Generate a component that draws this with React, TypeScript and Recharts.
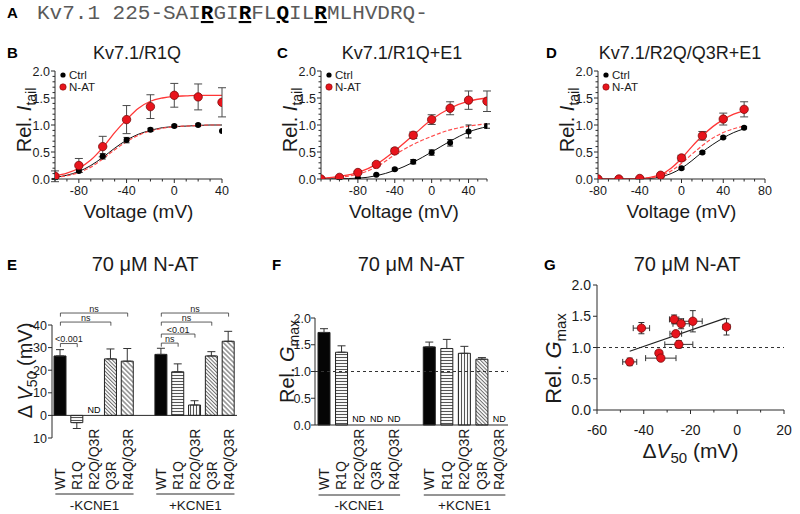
import React from 'react';
import {
  ComposedChart, BarChart, Bar, Line, Scatter, XAxis, YAxis, ErrorBar,
  ReferenceLine, ReferenceDot, Cell, Legend,
} from 'recharts';

const FONT = '"Liberation Sans", Arial, Helvetica, sans-serif';
const MONO = '"Liberation Mono", "Courier New", Courier, monospace';
const INK = '#1b1b1b';
const AXIS = '#2a2a2a';
const ERR = '#4a4a4a';
const RED_LINE = '#ff3636';
const RED_DASH = '#ff4c4c';
const RED_DOT = '#e8141c';
const RED_EDGE = '#7a0a0a';

/* ---------------- Panel A ---------------- */
const seqParts = [
  { t: 'Kv7.1 225-SAI', hl: false },
  { t: 'R', hl: true }, { t: 'GI', hl: false },
  { t: 'R', hl: true }, { t: 'FL', hl: false },
  { t: 'Q', hl: true }, { t: 'IL', hl: false },
  { t: 'R', hl: true }, { t: 'MLHVDRQ-', hl: false },
];

/* ---------------- Panel B : Kv7.1/R1Q ---------------- */
const voltsB = [-100, -80, -60, -40, -20, 0, 20, 40];
const ctrlB = [0.0, 0.15, 0.42, 0.72, 0.91, 0.98, 1.0, 0.89];
const ctrlBErr = [0.01, 0.03, 0.05, 0.05, 0.03, 0.02, 0.02, 0];
const natB = [0.05, 0.25, 0.6, 1.1, 1.34, 1.55, 1.52, 1.42];
const natBErr = [0.1, 0.13, 0.19, 0.26, 0.22, 0.22, 0.24, 0.27];
const fitVoltsB = [-100, -90, -80, -70, -60, -50, -40, -30, -20, -10, 0, 10, 20, 30, 40];
const fitCtrlB = [0.03, 0.07, 0.14, 0.25, 0.4, 0.57, 0.72, 0.83, 0.9, 0.95, 0.97, 0.98, 0.99, 1.0, 1.0];
const fitNatB = [0.06, 0.11, 0.2, 0.35, 0.58, 0.86, 1.1, 1.31, 1.44, 1.5, 1.53, 1.54, 1.55, 1.55, 1.55];
const fitNormB = [0.03, 0.06, 0.12, 0.22, 0.37, 0.54, 0.69, 0.81, 0.89, 0.94, 0.97, 0.98, 0.99, 1.0, 1.0];
const ticksB = [-100, -90, -80, -70, -60, -50, -40, -30, -20, -10, 0, 10, 20, 30, 40];
const labelsB = [-80, -40, 0, 40];

/* ---------------- Panel C : Kv7.1/R1Q+E1 ---------------- */
const voltsC = [-120, -100, -80, -60, -40, -20, 0, 20, 40, 60];
const ctrlC = [0.0, 0.0, 0.02, 0.08, 0.18, 0.32, 0.49, 0.67, 0.88, 0.98];
const ctrlCErr = [0, 0.01, 0.01, 0.01, 0.02, 0.04, 0.05, 0.06, 0.12, 0.04];
const natC = [0.0, 0.03, 0.12, 0.27, 0.52, 0.81, 1.1, 1.31, 1.46, 1.44];
const natCErr = [0, 0.01, 0.02, 0.03, 0.05, 0.06, 0.09, 0.12, 0.17, 0.19];
const fitVoltsC = [-120, -100, -80, -60, -40, -20, 0, 20, 40, 60];
const fitCtrlC = [0.0, 0.005, 0.015, 0.06, 0.16, 0.31, 0.5, 0.7, 0.87, 0.97];
const fitNatC = [0.01, 0.05, 0.12, 0.27, 0.52, 0.81, 1.1, 1.31, 1.44, 1.5];
const fitNormC = [0.01, 0.03, 0.09, 0.22, 0.45, 0.64, 0.79, 0.91, 0.98, 1.02];
const ticksC = [-120, -110, -100, -90, -80, -70, -60, -50, -40, -30, -20, -10, 0, 10, 20, 30, 40, 50, 60];
const labelsC = [-80, -40, 0, 40];

/* ---------------- Panel D : Kv7.1/R2Q/Q3R+E1 ---------------- */
const voltsD = [-80, -60, -40, -20, 0, 20, 40, 60];
const ctrlD = [0.0, 0.0, 0.0, 0.04, 0.2, 0.49, 0.77, 0.95];
const ctrlDErr = [0, 0, 0, 0.01, 0.02, 0.02, 0.02, 0.02];
const natD = [0.0, 0.0, 0.01, 0.07, 0.39, 0.8, 1.11, 1.29];
const natDErr = [0, 0, 0.01, 0.02, 0.05, 0.08, 0.11, 0.14];
const fitVoltsD = [-80, -60, -40, -30, -20, -10, 0, 10, 20, 30, 40, 50, 60];
const fitCtrlD = [0.0, 0.0, 0.0, 0.01, 0.04, 0.1, 0.2, 0.34, 0.5, 0.64, 0.76, 0.86, 0.93];
const fitNatD = [0.0, 0.0, 0.01, 0.03, 0.08, 0.2, 0.38, 0.6, 0.8, 0.97, 1.1, 1.2, 1.26];
const fitNormD = [0.0, 0.0, 0.01, 0.02, 0.06, 0.15, 0.29, 0.46, 0.62, 0.76, 0.86, 0.93, 0.98];
const ticksD = [-80, -70, -60, -50, -40, -30, -20, -10, 0, 10, 20, 30, 40, 50, 60, 70, 80];
const labelsD = [-80, -40, 0, 40, 80];

const ivYTicks = [0, 0.1, 0.2, 0.3, 0.4, 0.5, 0.6, 0.7, 0.8, 0.9, 1, 1.1, 1.2, 1.3, 1.4, 1.5, 1.6, 1.7, 1.8, 1.9, 2];
const ivYLabels = [0, 0.5, 1, 1.5, 2];

/* ---------------- Panels E / F ---------------- */
const mutants = ['WT', 'R1Q', 'R2Q/Q3R', 'Q3R', 'R4Q/Q3R', '', 'WT', 'R1Q', 'R2Q/Q3R', 'Q3R', 'R4Q/Q3R'];
const groups = ['-KCNE1', '+KCNE1'];
const dV50Means = [-26.3, 3.2, null, -25.0, -24.0, null, -27.0, -19.3, -4.6, -26.3, -32.8];
const dV50Sem = [2.8, 2.6, null, 4.4, 5.6, null, 2.7, 3.5, 1.9, 1.9, 4.4];
const gmaxMeans = [1.73, 1.36, null, null, null, null, 1.46, 1.43, 1.34, 1.23, null];
const gmaxSem = [0.07, 0.12, null, null, null, null, 0.09, 0.17, 0.13, 0.03, null];
const eTicks = [-40, -30, -20, -10, 0, 10];
const fTicks = [0, 0.5, 1, 1.5, 2];
const bracketsE = [
  { from: 0, to: 4, level: -45.3, text: 'ns' },
  { from: 0, to: 3, level: -41.3, text: 'ns' },
  { from: 0, to: 1, level: -31.8, text: '<0.001' },
  { from: 6, to: 10, level: -45.3, text: 'ns' },
  { from: 6, to: 9, level: -41.3, text: 'ns' },
  { from: 6, to: 8, level: -36.0, text: '<0.01' },
  { from: 6, to: 7, level: -32.0, text: 'ns' },
];
const barStyles = ['solid', 'h', 'v', 'd1', 'd2', 'solid', 'solid', 'h', 'v', 'd1', 'd2'];

/* ---------------- Panel G ---------------- */
const gDV50 = [-46, -41, -33.5, -32.7, -27, -24, -26.3, -25, -19, -4.6];
const gDV50Err = [3, 3.5, 1.2, 6.5, 2, 3.5, 2.5, 6, 4, 1.5];
const gGmax = [0.77, 1.31, 0.91, 0.83, 1.45, 1.38, 1.22, 1.05, 1.42, 1.33];
const gGmaxErr = [0.06, 0.09, 0.04, 0.04, 0.07, 0.08, 0.04, 0.06, 0.17, 0.13];
const fitGx = [-46, -5];
const fitGy = [0.94, 1.47];
const gXTicks = [-60, -50, -40, -30, -20, -10, 0, 10, 20];
const gXLabels = [-60, -40, -20, 0, 20];
const gYTicks = [0, 0.5, 1, 1.5, 2];

/* ---------------- tables built from the arrays ---------------- */
const ivPts = (xs: number[], ys: number[], es?: number[]) =>
  xs.map((v, k) => ({ v, i: ys[k], e: es ? es[k] : 0 }));

const barTable = (means: (number | null)[], sem: (number | null)[]) =>
  mutants.map((name, k) => {
    const m = means[k];
    const s = sem[k];
    return {
      id: k,
      name,
      val: m,
      err: m == null || s == null ? undefined : m < 0 ? [s, 0] : [0, s],
    };
  });

const tableE = barTable(dV50Means, dV50Sem);
const tableF = barTable(gmaxMeans, gmaxSem);
const ndIds = (means: (number | null)[]) =>
  mutants.map((n, k) => (n !== '' && means[k] == null ? k : -1)).filter((k) => k >= 0);

const tableG = gDV50.map((x, k) => ({ x, y: gGmax[k], ex: gDV50Err[k], ey: gGmaxErr[k] }));
const fitG = fitGx.map((x, k) => ({ x, y: fitGy[k] }));

/* ---------------- helpers ---------------- */
const near = (arr: number[], v: number) => arr.some((l) => Math.abs(l - v) < 1e-6);

function XNumTick(props: any) {
  const { x, y, payload, labels, fontSize = 12.5, labelDy = 16 } = props;
  const v = Number(payload.value);
  const major = near(labels, v);
  return (
    <g>
      <line x1={x} x2={x} y1={y} y2={y + (major ? 4 : 2.5)} stroke={AXIS} strokeWidth={1} />
      {major ? (
        <text x={x} y={y + labelDy} textAnchor="middle" fontSize={fontSize} fontFamily={FONT} fill={INK}>
          {String(v)}
        </text>
      ) : null}
    </g>
  );
}

function YNumTick(props: any) {
  const { x, y, payload, labels, fmt, fontSize = 12.5, gap = 5 } = props;
  const v = Number(payload.value);
  const major = near(labels, v);
  return (
    <g>
      <line x1={x} x2={x - (major ? 4 : 2.5)} y1={y} y2={y} stroke={AXIS} strokeWidth={1} />
      {major ? (
        <text x={x - gap} y={y} dy="0.36em" textAnchor="end" fontSize={fontSize} fontFamily={FONT} fill={INK}>
          {fmt(v)}
        </text>
      ) : null}
    </g>
  );
}

function CatTick(props: any) {
  const { x, y, payload, offset } = props;
  const name = mutants[Number(payload.value)];
  if (!name) return <g />;
  const y0 = y + offset;
  return (
    <text
      transform={`rotate(-90 ${x} ${y0})`}
      x={x}
      y={y0}
      dy="0.36em"
      textAnchor="start"
      fontSize={14}
      fontFamily={FONT}
      fill={INK}
    >
      {name}
    </text>
  );
}

function RotTitle({ cx, cy, size = 20, children }: any) {
  return (
    <text
      transform={`translate(${cx},${cy}) rotate(-90)`}
      x={0}
      y={7}
      textAnchor="middle"
      fontSize={size}
      fontFamily={FONT}
      fill={INK}
    >
      {children}
    </text>
  );
}

const fmt1 = (v: number) => v.toFixed(1);

function groupLabels(lineDy: number, textDy: number) {
  return (lp: any) => {
    const vb = lp.viewBox;
    if (!vb) return null;
    const slot = vb.width / mutants.length;
    return (
      <g>
        {groups.map((g, k) => {
          const x1 = vb.x + (k * 6 + 0.2) * slot;
          const x2 = vb.x + (k * 6 + 4.85) * slot;
          return (
            <g key={g}>
              <line x1={x1} x2={x2} y1={vb.y + lineDy} y2={vb.y + lineDy} stroke={AXIS} strokeWidth={1} />
              <text x={(x1 + x2) / 2} y={vb.y + textDy} textAnchor="middle" fontSize={13.5} fontFamily={FONT} fill={INK}>
                {g}
              </text>
            </g>
          );
        })}
      </g>
    );
  };
}

const ndLabel = (dy: number) => (lp: any) => {
  const vb = lp.viewBox;
  if (!vb) return null;
  return (
    <text x={vb.x + (vb.width || 0) / 2} y={vb.y - dy} textAnchor="middle" fontSize={9} fontFamily={FONT} fill="#000" stroke="none">
      ND
    </text>
  );
};

function patternDefs(pre: string) {
  return (
    <defs>
      <pattern id={`${pre}-h`} width={4} height={3} patternUnits="userSpaceOnUse">
        <rect width={4} height={3} fill="#fff" />
        <line x1={0} y1={1.5} x2={4} y2={1.5} stroke="#555" strokeWidth={1.1} />
      </pattern>
      <pattern id={`${pre}-v`} width={3} height={4} patternUnits="userSpaceOnUse">
        <rect width={3} height={4} fill="#fff" />
        <line x1={1.5} y1={0} x2={1.5} y2={4} stroke="#555" strokeWidth={1.1} />
      </pattern>
      <pattern id={`${pre}-d1`} width={2.6} height={4} patternUnits="userSpaceOnUse" patternTransform="rotate(-45)">
        <rect width={2.6} height={4} fill="#fff" />
        <line x1={1.3} y1={0} x2={1.3} y2={4} stroke="#666" strokeWidth={1} />
      </pattern>
      <pattern id={`${pre}-d2`} width={3.4} height={4} patternUnits="userSpaceOnUse" patternTransform="rotate(-45)">
        <rect width={3.4} height={4} fill="#fff" />
        <line x1={1.7} y1={0} x2={1.7} y2={4} stroke="#555" strokeWidth={1} />
      </pattern>
    </defs>
  );
}

const fillFor = (pre: string, style: string) => (style === 'solid' ? '#050505' : `url(#${pre}-${style})`);

const blackDot = (p: any) =>
  p.cx == null ? <g /> : <circle cx={p.cx} cy={p.cy} r={3} fill="#000" />;
const redDot = (p: any) =>
  p.cx == null ? <g /> : <circle cx={p.cx} cy={p.cy} r={4.2} fill={RED_DOT} stroke={RED_EDGE} strokeWidth={0.8} />;

function ivLegend() {
  return (
    <svg width={70} height={26} style={{ overflow: 'visible', display: 'block' }}>
      <circle cx={5} cy={6} r={2.6} fill="#000" />
      <text x={11} y={6} dy="0.36em" fontSize={11.5} fontFamily={FONT} fill={INK}>Ctrl</text>
      <circle cx={5} cy={18} r={3.2} fill={RED_DOT} stroke={RED_EDGE} strokeWidth={0.6} />
      <text x={11} y={18} dy="0.36em" fontSize={11.5} fontFamily={FONT} fill={INK}>N-AT</text>
    </svg>
  );
}

/* ---------------- IV panel ---------------- */
type IVProps = {
  left: number; width: number; yAxisW: number; marginRight: number;
  domain: [number, number]; ticks: number[]; labels: number[];
  ctrl: any[]; nat: any[]; fitCtrl: any[]; fitNat: any[]; fitNorm: any[];
};

function IVPanel(p: IVProps) {
  return (
    <div style={{ position: 'absolute', left: p.left, top: 40 }}>
      <ComposedChart width={p.width} height={190} margin={{ top: 31, right: p.marginRight, bottom: 0, left: 0 }}>
        <XAxis
          type="number" dataKey="v" domain={p.domain} ticks={p.ticks} interval={0} allowDataOverflow
          height={51} stroke={AXIS} tickLine={false} tickSize={0} tickMargin={0}
          tick={(t: any) => <XNumTick {...t} labels={p.labels} />}
          label={{
            content: (lp: any) => {
              const vb = lp.viewBox;
              if (!vb) return null;
              return (
                <text x={vb.x + vb.width / 2} y={vb.y + 39} textAnchor="middle" fontSize={19} fontFamily={FONT} fill={INK}>
                  Voltage (mV)
                </text>
              );
            },
          }}
        />
        <YAxis
          type="number" dataKey="i" domain={[0, 2]} ticks={ivYTicks} interval={0} allowDataOverflow
          width={p.yAxisW} stroke={AXIS} tickLine={false} tickSize={0} tickMargin={0}
          tick={(t: any) => <YNumTick {...t} labels={ivYLabels} fmt={fmt1} />}
          label={{
            content: (lp: any) => {
              const vb = lp.viewBox;
              if (!vb) return null;
              return (
                <RotTitle cx={vb.x + vb.width - 31} cy={vb.y + vb.height / 2 - 5}>
                  Rel. <tspan fontStyle="italic">I</tspan>
                  <tspan fontSize={14} dy={5}>tail</tspan>
                </RotTitle>
              );
            },
          }}
        />
        <Line data={p.fitCtrl} dataKey="i" type="monotone" stroke="#111" strokeWidth={1} dot={false} isAnimationActive={false} />
        <Line data={p.fitNorm} dataKey="i" type="monotone" stroke={RED_DASH} strokeWidth={1.2} strokeDasharray="4 2" dot={false} isAnimationActive={false} />
        <Line data={p.fitNat} dataKey="i" type="monotone" stroke={RED_LINE} strokeWidth={1.3} dot={false} isAnimationActive={false} />
        <Scatter data={p.ctrl} dataKey="i" shape={blackDot} isAnimationActive={false}>
          <ErrorBar dataKey="e" direction="y" width={3} stroke="#222" strokeWidth={1} />
        </Scatter>
        <Scatter data={p.nat} dataKey="i" shape={redDot} isAnimationActive={false}>
          <ErrorBar dataKey="e" direction="y" width={4} stroke={ERR} strokeWidth={1} />
        </Scatter>
        <Legend
          layout="vertical" align="center" verticalAlign="middle"
          wrapperStyle={{ left: p.yAxisW + 3, top: 29, width: 70, height: 26 }}
          content={ivLegend}
        />
      </ComposedChart>
    </div>
  );
}

/* ---------------- Panel E ---------------- */
function PanelE() {
  return (
    <div style={{ position: 'absolute', left: 0, top: 290 }}>
      <BarChart width={250} height={224} data={tableE} margin={{ top: 35, right: 13, bottom: 0, left: 0 }}>
        {patternDefs('pe')}
        <XAxis
          dataKey="id" type="category" interval={0} axisLine={false} tickLine={false} tickSize={0} tickMargin={0}
          height={76} tick={(t: any) => <CatTick {...t} offset={52} />}
          label={{ content: groupLabels(56, 72) }}
        />
        <YAxis
          type="number" reversed domain={[-40, 10]} ticks={eTicks} interval={0} width={52}
          stroke={AXIS} tickLine={false} tickSize={0} tickMargin={0}
          tick={(t: any) => <YNumTick {...t} labels={eTicks} fmt={(v: number) => String(v)} gap={5} />}
          label={{
            content: (lp: any) => {
              const vb = lp.viewBox;
              if (!vb) return null;
              return (
                <RotTitle cx={vb.x + vb.width - 27} cy={vb.y + vb.height / 2 - 11}>
                  Δ <tspan fontStyle="italic">V</tspan>
                  <tspan fontSize={14} dy={5}>50</tspan>
                  <tspan dy={-5}> (mV)</tspan>
                </RotTitle>
              );
            },
          }}
        />
        <ReferenceLine y={0} stroke={AXIS} strokeWidth={1} />
        <Bar dataKey="val" barSize={12} stroke="#222" strokeWidth={1} isAnimationActive={false}>
          {tableE.map((d, k) => (
            <Cell key={k} fill={fillFor('pe', barStyles[k])} />
          ))}
          <ErrorBar dataKey="err" direction="y" width={4} stroke="#333" strokeWidth={1} />
        </Bar>
        {bracketsE.map((b, k) => (
          <ReferenceLine
            key={`bh${k}`}
            segment={[{ x: b.from, y: b.level }, { x: b.to, y: b.level }]}
            stroke="#333" strokeWidth={0.8} ifOverflow="visible"
            label={{ value: b.text, position: 'top', offset: 1.5, fontSize: 9, fill: INK, fontFamily: FONT }}
          />
        ))}
        {bracketsE.map((b, k) => (
          <ReferenceLine
            key={`bl${k}`}
            segment={[{ x: b.from, y: b.level }, { x: b.from, y: b.level + 1.6 }]}
            stroke="#333" strokeWidth={0.8} ifOverflow="visible"
          />
        ))}
        {bracketsE.map((b, k) => (
          <ReferenceLine
            key={`br${k}`}
            segment={[{ x: b.to, y: b.level }, { x: b.to, y: b.level + 1.6 }]}
            stroke="#333" strokeWidth={0.8} ifOverflow="visible"
          />
        ))}
        {ndIds(dV50Means).map((id) => (
          <ReferenceDot
            key={`nd${id}`} x={id} y={0} r={0} fill="none" stroke="none" ifOverflow="visible"
            label={{ content: ndLabel(2) }}
          />
        ))}
      </BarChart>
    </div>
  );
}

/* ---------------- Panel F ---------------- */
function PanelF() {
  return (
    <div style={{ position: 'absolute', left: 265, top: 290 }}>
      <BarChart width={255} height={224} data={tableF} margin={{ top: 28, right: 12, bottom: 0, left: 0 }}>
        {patternDefs('pf')}
        <XAxis
          dataKey="id" type="category" interval={0} stroke={AXIS} tickLine={false} tickSize={0} tickMargin={0}
          height={89} tick={(t: any) => <CatTick {...t} offset={65} />}
          label={{ content: groupLabels(70, 85) }}
        />
        <YAxis
          type="number" domain={[0, 2]} ticks={fTicks} interval={0} width={50}
          stroke={AXIS} tickLine={false} tickSize={0} tickMargin={0}
          tick={(t: any) => <YNumTick {...t} labels={fTicks} fmt={fmt1} gap={4} />}
          label={{
            content: (lp: any) => {
              const vb = lp.viewBox;
              if (!vb) return null;
              return (
                <RotTitle cx={vb.x + vb.width - 28} cy={vb.y + vb.height / 2 - 10}>
                  Rel. <tspan fontStyle="italic">G</tspan>
                  <tspan fontSize={14} dy={5}>max</tspan>
                </RotTitle>
              );
            },
          }}
        />
        <ReferenceLine y={1} stroke="#333" strokeWidth={1} strokeDasharray="3 3" />
        <Bar dataKey="val" barSize={12} stroke="#222" strokeWidth={1} isAnimationActive={false}>
          {tableF.map((d, k) => (
            <Cell key={k} fill={fillFor('pf', barStyles[k])} />
          ))}
          <ErrorBar dataKey="err" direction="y" width={4} stroke="#333" strokeWidth={1} />
        </Bar>
        {ndIds(gmaxMeans).map((id) => (
          <ReferenceDot
            key={`nd${id}`} x={id} y={0} r={0} fill="none" stroke="none" ifOverflow="visible"
            label={{ content: ndLabel(3) }}
          />
        ))}
      </BarChart>
    </div>
  );
}

/* ---------------- Panel G ---------------- */
function PanelG() {
  return (
    <div style={{ position: 'absolute', left: 540, top: 260 }}>
      <ComposedChart width={260} height={205} margin={{ top: 25, right: 16, bottom: 0, left: 0 }}>
        <XAxis
          type="number" dataKey="x" domain={[-60, 20]} ticks={gXTicks} interval={0} allowDataOverflow
          height={55} stroke={AXIS} tickLine={false} tickSize={0} tickMargin={0}
          tick={(t: any) => <XNumTick {...t} labels={gXLabels} fontSize={14} labelDy={25} />}
          label={{
            content: (lp: any) => {
              const vb = lp.viewBox;
              if (!vb) return null;
              return (
                <text x={vb.x + vb.width / 2} y={vb.y + 48} textAnchor="middle" fontSize={21} fontFamily={FONT} fill={INK}>
                  Δ<tspan fontStyle="italic">V</tspan>
                  <tspan fontSize={15} dy={5}>50</tspan>
                  <tspan dy={-5}> (mV)</tspan>
                </text>
              );
            },
          }}
        />
        <YAxis
          type="number" dataKey="y" domain={[0, 2]} ticks={gYTicks} interval={0} allowDataOverflow width={57}
          stroke={AXIS} tickLine={false} tickSize={0} tickMargin={0}
          tick={(t: any) => <YNumTick {...t} labels={gYTicks} fmt={fmt1} fontSize={14} gap={6} />}
          label={{
            content: (lp: any) => {
              const vb = lp.viewBox;
              if (!vb) return null;
              return (
                <RotTitle cx={vb.x + vb.width - 43} cy={vb.y + vb.height / 2 + 11} size={22}>
                  Rel. <tspan fontStyle="italic">G</tspan>
                  <tspan fontSize={15} dy={5}>max</tspan>
                </RotTitle>
              );
            },
          }}
        />
        <ReferenceLine y={1} stroke="#333" strokeWidth={1} strokeDasharray="3 3" />
        <Line data={fitG} dataKey="y" type="linear" stroke="#222" strokeWidth={1.1} dot={false} isAnimationActive={false} />
        <Scatter data={tableG} dataKey="y" shape={redDot} isAnimationActive={false}>
          <ErrorBar dataKey="ex" direction="x" width={3} stroke="#333" strokeWidth={1} />
          <ErrorBar dataKey="ey" direction="y" width={3} stroke="#333" strokeWidth={1} />
        </Scatter>
      </ComposedChart>
    </div>
  );
}

/* ---------------- static text overlay ---------------- */
function Overlay() {
  const letter = (t: string, x: number, y: number) => (
    <text x={x} y={y} fontSize={15} fontWeight="bold" fontFamily={FONT} fill="#000">{t}</text>
  );
  const title = (t: string, cx: number, y: number, size: number) => (
    <text x={cx} y={y} textAnchor="middle" fontSize={size} fontFamily={FONT} fill={INK}>{t}</text>
  );
  return (
    <svg width={800} height={514} style={{ position: 'absolute', left: 0, top: 0, pointerEvents: 'none' }}>
      {letter('A', 7, 18)}
      <text x={37} y={19} fontSize={21} fontFamily={MONO} fill="#5a5a5a">
        {seqParts.map((s, k) =>
          s.hl ? (
            <tspan key={k} fontWeight="bold" fill="#000" style={{ textDecoration: 'underline', textDecorationThickness: '2px', textUnderlineOffset: '3px' } as any}>
              {s.t}
            </tspan>
          ) : (
            <tspan key={k}>{s.t}</tspan>
          ),
        )}
      </text>
      {letter('B', 7, 58)}
      {title('Kv7.1/R1Q', 137, 59, 18)}
      {letter('C', 277, 58)}
      {title('Kv7.1/R1Q+E1', 402, 59, 18)}
      {letter('D', 546, 58)}
      {title('Kv7.1/R2Q/Q3R+E1', 680, 59, 18)}
      {letter('E', 7, 270)}
      {title('70 μM N-AT', 145, 271, 20)}
      {letter('F', 272, 270)}
      {title('70 μM N-AT', 411, 271, 20)}
      {letter('G', 544, 270)}
      {title('70 μM N-AT', 687, 271, 20)}
    </svg>
  );
}

export default function App() {
  return (
    <div style={{ position: 'absolute', left: 0, top: 0, width: 800, height: 514, background: '#fff', overflow: 'hidden', fontFamily: FONT }}>
      <IVPanel
        left={0} width={240} yAxisW={55} marginRight={18}
        domain={[-100, 40]} ticks={ticksB} labels={labelsB}
        ctrl={ivPts(voltsB, ctrlB, ctrlBErr)} nat={ivPts(voltsB, natB, natBErr)}
        fitCtrl={ivPts(fitVoltsB, fitCtrlB)} fitNat={ivPts(fitVoltsB, fitNatB)} fitNorm={ivPts(fitVoltsB, fitNormB)}
      />
      <IVPanel
        left={264} width={241} yAxisW={57} marginRight={18}
        domain={[-120, 60]} ticks={ticksC} labels={labelsC}
        ctrl={ivPts(voltsC, ctrlC, ctrlCErr)} nat={ivPts(voltsC, natC, natCErr)}
        fitCtrl={ivPts(fitVoltsC, fitCtrlC)} fitNat={ivPts(fitVoltsC, fitNatC)} fitNorm={ivPts(fitVoltsC, fitNormC)}
      />
      <IVPanel
        left={540} width={245} yAxisW={58} marginRight={20}
        domain={[-80, 80]} ticks={ticksD} labels={labelsD}
        ctrl={ivPts(voltsD, ctrlD, ctrlDErr)} nat={ivPts(voltsD, natD, natDErr)}
        fitCtrl={ivPts(fitVoltsD, fitCtrlD)} fitNat={ivPts(fitVoltsD, fitNatD)} fitNorm={ivPts(fitVoltsD, fitNormD)}
      />
      <PanelE />
      <PanelF />
      <PanelG />
      <Overlay />
    </div>
  );
}
